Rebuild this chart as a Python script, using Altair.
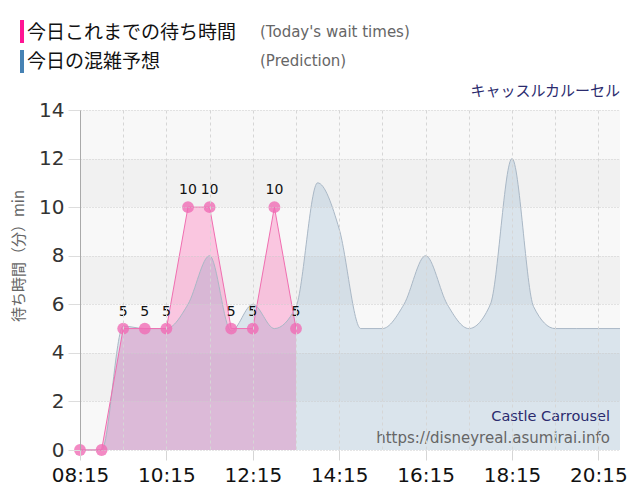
import altair as alt
import pandas as pd

# ---- data ----
pred_times = ["08:15", "08:45", "09:15", "09:45", "10:15", "10:45", "11:15", "11:45",
              "12:15", "12:45", "13:15", "13:45", "14:15", "14:45", "15:15", "15:45",
              "16:15", "16:45", "17:15", "17:45", "18:15", "18:45", "19:15", "19:45",
              "20:15", "20:45"]
pred_values = [0, 0, 5.1, 5.0, 5.0, 6.0, 8.0, 4.9, 6.0, 5.0, 5.9, 11.0, 9.1, 5.0, 5.0,
               6.0, 8.0, 6.0, 5.0, 6.0, 12.0, 5.9, 5.0, 5.0, 5.0, 5.0]

act_times = ["08:15", "08:45", "09:15", "09:45", "10:15", "10:45", "11:15", "11:45",
             "12:15", "12:45", "13:15"]
act_values = [0, 0, 5, 5, 5, 10, 10, 5, 5, 10, 5]

grid_times = ["08:15", "08:45", "09:15", "09:45", "10:15", "10:45", "11:15", "11:45",
              "12:15", "12:45", "13:15", "13:45", "14:15", "14:45", "15:15", "15:45",
              "16:15", "16:45", "17:15", "17:45", "18:15", "18:45", "19:15", "19:45",
              "20:15", "20:45"]
y_ticks = [0, 2, 4, 6, 8, 10, 12, 14]
band_lo = [0, 2, 4, 6, 8, 10, 12]
band_hi = [2, 4, 6, 8, 10, 12, 14]
band_shade = ["a", "b", "a", "b", "a", "b", "a"]

title_jp = "キャッスルカルーセル"
legend1_jp = "今日これまでの待ち時間"
legend1_en = "(Today's wait times)"
legend2_jp = "今日の混雑予想"
legend2_en = "(Prediction)"
y_title = "待ち時間（分）min"
wm1 = "Castle Carrousel"
wm2 = "https://disneyreal.asumirai.info"


def to_min(t):
    h, m = t.split(":")
    return int(h) * 60 + int(m)


pred = pd.DataFrame({"t": [to_min(t) for t in pred_times], "v": pred_values})
act = pd.DataFrame({"t": [to_min(t) for t in act_times], "v": act_values})
act["lbl"] = [str(v) if v > 0 else "" for v in act_values]
bands = pd.DataFrame({"lo": band_lo, "hi": band_hi, "s": band_shade})
one = pd.DataFrame({"a": [0]})

x_dom = [to_min(grid_times[0]), to_min(grid_times[-1])]
x0 = x_dom[0]

label_expr = (f"(datum.value - {x0}) % 120 == 0 ? "
              "((floor(datum.value/60) < 10 ? '0' : '') + floor(datum.value/60) + ':' + "
              "(datum.value % 60 < 10 ? '0' : '') + (datum.value % 60)) : ''")

xscale = alt.Scale(domain=x_dom, nice=False, zero=False)
yscale = alt.Scale(domain=[0, 14], nice=False)

xaxis = alt.Axis(
    values=[to_min(t) for t in grid_times], labelExpr=label_expr, labelOverlap=False,
    labelFlush=False,
    grid=True, gridColor="#d6d6d6", gridDash=[3, 3], gridWidth=1,
    tickColor="#d6d6d6", tickSize=10,
    tickOpacity={"condition": {"test": f"(datum.value - {x0}) % 120 == 0", "value": 1}, "value": 0},
    domain=False, labelFont="DejaVu Sans", labelFontSize=20, labelColor="#111111",
    labelPadding=5, title=None, zindex=1,
)
yaxis = alt.Axis(
    values=y_ticks, grid=True, gridColor="#cccccc", gridDash=[1, 2], gridWidth=1,
    tickColor="#dddddd", tickSize=12, domain=True, domainColor="#aaaaaa",
    labelFont="DejaVu Sans", labelFontSize=20, labelColor="#333333", labelPadding=4,
    labelFlush=False, title=None, zindex=1,
)

bg = alt.Chart(bands).mark_rect().encode(
    y=alt.Y("lo:Q", scale=yscale, axis=yaxis),
    y2="hi:Q",
    color=alt.Color("s:N", scale=alt.Scale(domain=["a", "b"], range=["#f8f8f8", "#f1f1f1"]), legend=None),
)

act_area = alt.Chart(act).mark_area(color="#ff69b4", opacity=0.35).encode(
    x=alt.X("t:Q", scale=xscale, axis=xaxis),
    y=alt.Y("v:Q", scale=yscale),
)
pred_area = alt.Chart(pred).mark_area(
    interpolate="monotone", color="#4682b4", opacity=0.17,
).encode(x="t:Q", y="v:Q")
pred_line = alt.Chart(pred).mark_line(
    interpolate="monotone", color="#aab8c6", strokeWidth=1,
).encode(x="t:Q", y="v:Q")

act_line = alt.Chart(act).mark_line(color="#f06eb0", strokeWidth=1).encode(
    x="t:Q", y="v:Q")
act_pts = alt.Chart(act).mark_circle(size=140, color="#f06db5", opacity=0.8).encode(
    x="t:Q", y="v:Q")
act_lbl = alt.Chart(act).mark_text(
    dy=-17, font="DejaVu Sans", fontSize=14, color="#111111").encode(
    x="t:Q", y="v:Q", text="lbl:N")


def txt(s, x, y, size, color, font, align="left", angle=0, baseline="middle"):
    kw = dict(text=s, fontSize=size, color=color, font=font, align=align, baseline=baseline)
    if angle:
        kw["angle"] = angle
    return alt.Chart(one).mark_text(**kw).encode(x=alt.value(x), y=alt.value(y))


def bar(x, y, h, color):
    return alt.Chart(one).mark_rect(color=color).encode(
        x=alt.value(x), x2=alt.value(x + 4), y=alt.value(y), y2=alt.value(y + h))


JP = "Noto Sans CJK JP"
texts = [
    bar(-60, -90, 23, "#ff1493"),
    bar(-60, -60, 23, "#4682b4"),
    txt(legend1_jp, -53, -77, 19, "#111111", JP),
    txt(legend1_en, 180, -78, 15, "#666666", "DejaVu Sans"),
    txt(legend2_jp, -53, -48, 19, "#111111", JP),
    txt(legend2_en, 180, -49, 15, "#666666", "DejaVu Sans"),
    txt(title_jp, 540, -19, 15, "#2b2b6e", JP, align="right"),
    txt(y_title, -61, 146, 15, "#666666", JP, align="center", angle=270),
    txt(wm1, 530, 311, 14.5, "#2b2b6e", "DejaVu Sans", align="right", baseline="alphabetic"),
    txt(wm2, 530, 333, 15, "#666666", "DejaVu Sans", align="right", baseline="alphabetic"),
]

chart = alt.layer(
    bg, act_area, pred_area, pred_line, act_line, act_pts, act_lbl, *texts
).properties(
    width=540, height=340,
    autosize=alt.AutoSizeParams(type="none"),
    padding={"left": 72, "top": 102, "right": 12, "bottom": 42},
).configure_view(strokeWidth=0)

chart.save("out.html", embed_options={"renderer": "svg", "actions": False})
